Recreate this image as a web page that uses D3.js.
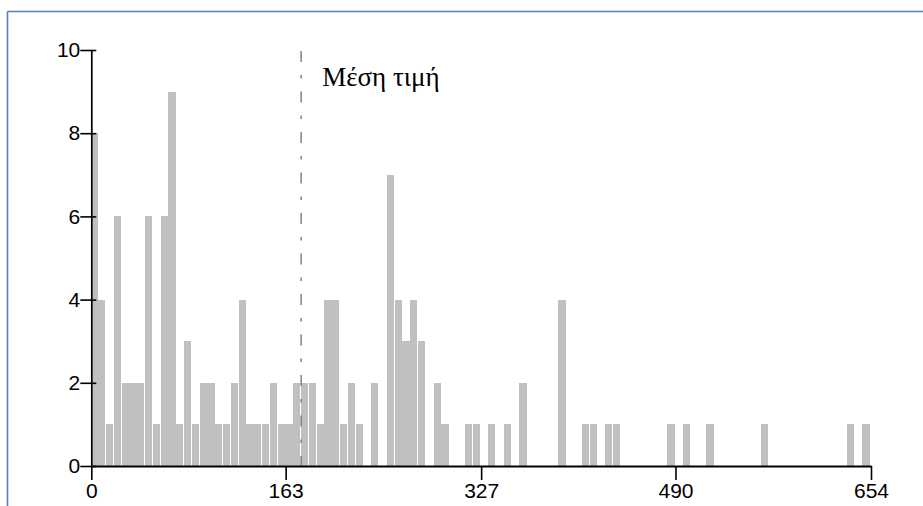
<!DOCTYPE html>
<html>
<head>
<meta charset="utf-8">
<script src="https://cdn.jsdelivr.net/npm/d3@7"></script>
<style>
  html, body { margin: 0; padding: 0; background: #ffffff; }
  svg { display: block; }
</style>
</head>
<body>
<svg id="chart" width="923" height="506"></svg>
<script>
// ---- data ----
const xMax = 654;
const counts = [
  8, 4, 1, 6, 2, 2, 2, 6, 1, 6,
  9, 1, 3, 1, 2, 2, 1, 1, 2, 4,
  1, 1, 1, 2, 1, 1, 2, 2, 2, 1,
  4, 4, 1, 2, 1, 0, 2, 0, 7, 4,
  3, 4, 3, 0, 2, 1, 0, 0, 1, 1,
  0, 1, 0, 1, 0, 2, 0, 0, 0, 0,
  4, 0, 0, 1, 1, 0, 1, 1, 0, 0,
  0, 0, 0, 0, 1, 0, 1, 0, 0, 1,
  0, 0, 0, 0, 0, 0, 1, 0, 0, 0,
  0, 0, 0, 0, 0, 0, 0, 1, 0, 1
];
const xTicks = [0, 163, 327, 490, 654];
const yTicks = [0, 2, 4, 6, 8, 10];
const meanValue = 176;
const meanLabel = "Μέση τιμή";

// ---- layout ----
const svg = d3.select("#chart");
const x = d3.scaleLinear().domain([0, xMax]).range([91.3, 871]);
const y = d3.scaleLinear().domain([0, 10]).range([466, 50]);
const binW = xMax / counts.length;

// frame (picture border)
svg.append("line").attr("x1", 7.5).attr("x2", 923).attr("y1", 11.5).attr("y2", 11.5)
  .attr("stroke", "#4f81bd").attr("stroke-width", 1.6);
svg.append("line").attr("x1", 7.5).attr("x2", 7.5).attr("y1", 11.5).attr("y2", 506)
  .attr("stroke", "#4f81bd").attr("stroke-width", 1.6);

// bars
const pitch = x(binW) - x(0);
svg.append("g").selectAll("rect")
  .data(counts.map((c, i) => ({ c, x0: i * binW })).filter(d => d.c > 0))
  .join("rect")
  .attr("x", d => x(d.x0) - 0.8)
  .attr("y", d => y(d.c))
  .attr("width", pitch - 0.6)
  .attr("height", d => y(0) - y(d.c))
  .attr("fill", "#c0c0c0")
  .attr("shape-rendering", "crispEdges");

// mean line
svg.append("line")
  .attr("x1", x(meanValue)).attr("x2", x(meanValue))
  .attr("y1", y(10) + 1).attr("y2", y(0))
  .attr("stroke", "#707070").attr("stroke-width", 1.3)
  .attr("stroke-dasharray", "11,13,3.5,13");

svg.append("text")
  .attr("x", x(meanValue) + 21).attr("y", 86)
  .attr("font-family", "'Liberation Serif', 'DejaVu Serif', serif")
  .attr("font-size", 27)
  .attr("fill", "#000")
  .text(meanLabel);

// axes
const xAxis = d3.axisBottom(x).tickValues(xTicks).tickSize(14).tickPadding(3).tickSizeOuter(0);
const gx = svg.append("g").attr("transform", `translate(0,${y(0)})`).call(xAxis);
gx.select(".domain").attr("stroke", "#000").attr("stroke-width", 2);
gx.selectAll(".tick line").attr("stroke", "#000").attr("stroke-width", 1.6);
gx.selectAll(".tick text").attr("font-family", "'Liberation Sans', Arial, sans-serif")
  .attr("font-size", 21).attr("fill", "#000");

const yAxis = d3.axisLeft(y).tickValues(yTicks).tickSize(11).tickPadding(0).tickSizeOuter(0);
const gy = svg.append("g").attr("transform", `translate(${x(0)},0)`).call(yAxis);
gy.select(".domain").attr("stroke", "#000").attr("stroke-width", 1.7);
gy.selectAll(".tick line").attr("stroke", "#000").attr("stroke-width", 1.6).attr("x2", 5).attr("x1", -11);
gy.selectAll(".tick text").attr("font-family", "'Liberation Sans', Arial, sans-serif")
  .attr("font-size", 21).attr("fill", "#000").attr("x", -11);
</script>
</body>
</html>
